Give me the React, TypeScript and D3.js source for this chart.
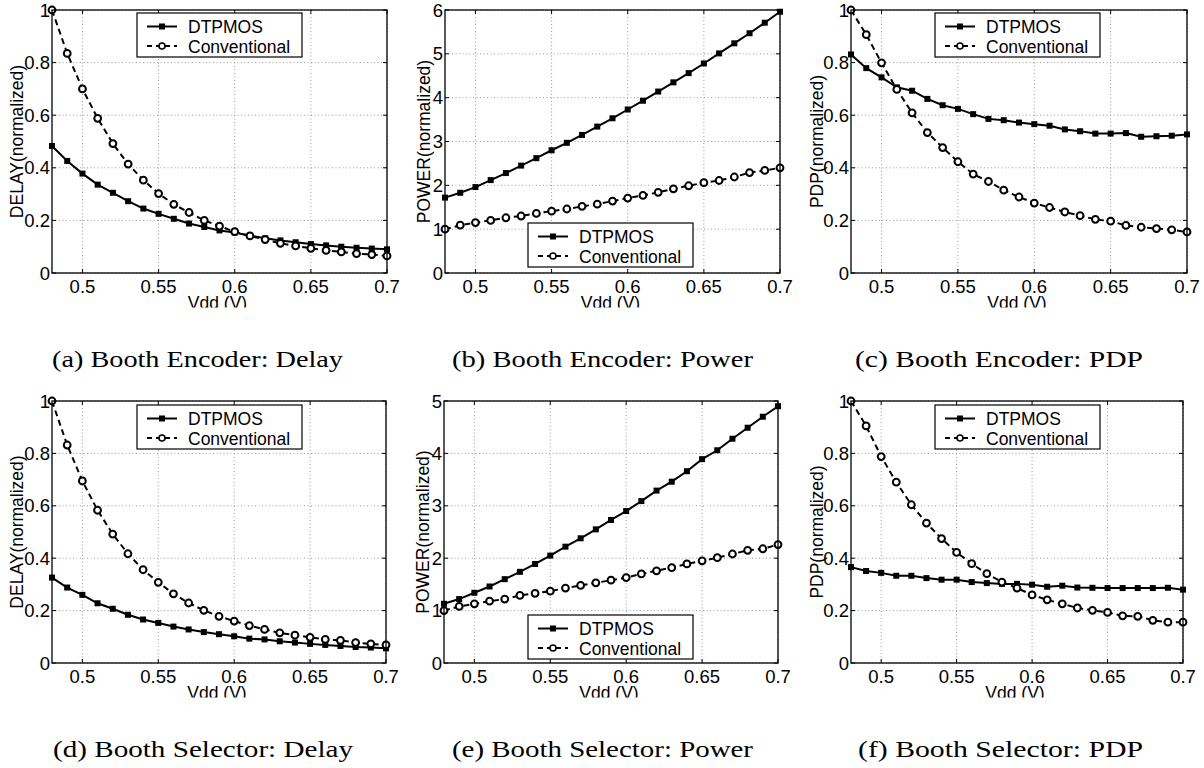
import React from "react";
import * as d3 from "d3";

const vdd = [0.48, 0.49, 0.5, 0.51, 0.52, 0.53, 0.54, 0.55, 0.56, 0.57, 0.58, 0.59, 0.6, 0.61, 0.62, 0.63, 0.64, 0.65, 0.66, 0.67, 0.68, 0.69, 0.7];
const xTicks = [0.5, 0.55, 0.6, 0.65, 0.7];
const seriesNames = ["DTPMOS", "Conventional"];

const encDelayDtpmos = [0.483, 0.426, 0.378, 0.336, 0.305, 0.273, 0.245, 0.225, 0.206, 0.188, 0.175, 0.162, 0.154, 0.142, 0.132, 0.124, 0.117, 0.11, 0.105, 0.1, 0.096, 0.093, 0.09];
const encDelayConv = [1.0, 0.835, 0.7, 0.588, 0.492, 0.414, 0.353, 0.302, 0.261, 0.23, 0.2, 0.178, 0.157, 0.141, 0.127, 0.113, 0.103, 0.094, 0.086, 0.08, 0.074, 0.07, 0.065];
const encPowerDtpmos = [1.72, 1.83, 1.96, 2.12, 2.28, 2.45, 2.62, 2.8, 2.97, 3.15, 3.34, 3.53, 3.73, 3.93, 4.14, 4.35, 4.56, 4.78, 5.01, 5.24, 5.47, 5.71, 5.96];
const encPowerConv = [1.0, 1.09, 1.15, 1.2, 1.26, 1.3, 1.36, 1.41, 1.46, 1.52, 1.57, 1.64, 1.71, 1.77, 1.84, 1.92, 1.99, 2.06, 2.11, 2.19, 2.29, 2.34, 2.4];
const encPdpDtpmos = [0.831, 0.779, 0.744, 0.706, 0.693, 0.662, 0.638, 0.624, 0.604, 0.586, 0.581, 0.572, 0.566, 0.56, 0.546, 0.539, 0.53, 0.53, 0.532, 0.518, 0.52, 0.522, 0.527];
const encPdpConv = [1.0, 0.906, 0.799, 0.698, 0.609, 0.534, 0.477, 0.423, 0.376, 0.348, 0.315, 0.289, 0.266, 0.249, 0.232, 0.218, 0.204, 0.197, 0.181, 0.174, 0.169, 0.164, 0.156];
const selDelayDtpmos = [0.326, 0.288, 0.26, 0.228, 0.207, 0.184, 0.166, 0.153, 0.139, 0.128, 0.118, 0.11, 0.102, 0.093, 0.09, 0.083, 0.078, 0.073, 0.069, 0.065, 0.061, 0.059, 0.056];
const selDelayConv = [1.0, 0.832, 0.695, 0.583, 0.492, 0.417, 0.356, 0.308, 0.264, 0.229, 0.201, 0.178, 0.16, 0.143, 0.128, 0.115, 0.106, 0.098, 0.09, 0.086, 0.078, 0.073, 0.069];
const selPowerDtpmos = [1.13, 1.22, 1.34, 1.46, 1.6, 1.74, 1.89, 2.05, 2.22, 2.38, 2.55, 2.73, 2.9, 3.09, 3.29, 3.46, 3.66, 3.89, 4.06, 4.28, 4.49, 4.7, 4.9];
const selPowerConv = [1.0, 1.08, 1.13, 1.18, 1.22, 1.29, 1.33, 1.37, 1.43, 1.48, 1.53, 1.58, 1.63, 1.7, 1.76, 1.82, 1.89, 1.95, 2.01, 2.08, 2.15, 2.18, 2.26];
const selPdpDtpmos = [0.366, 0.351, 0.344, 0.333, 0.333, 0.324, 0.318, 0.318, 0.309, 0.305, 0.302, 0.302, 0.299, 0.291, 0.295, 0.288, 0.287, 0.286, 0.286, 0.286, 0.286, 0.287, 0.28];
const selPdpConv = [1.0, 0.905, 0.788, 0.69, 0.604, 0.534, 0.475, 0.422, 0.379, 0.341, 0.309, 0.286, 0.26, 0.241, 0.226, 0.21, 0.201, 0.193, 0.18, 0.178, 0.163, 0.156, 0.156];

const unitTicks = [0, 0.2, 0.4, 0.6, 0.8, 1];
const power6Ticks = [0, 1, 2, 3, 4, 5, 6];
const power5Ticks = [0, 1, 2, 3, 4, 5];

const yLabels = ["DELAY(normalized)", "POWER(normalized)", "PDP(normalized)"];
const captions = [
  "(a) Booth Encoder: Delay",
  "(b) Booth Encoder: Power",
  "(c) Booth Encoder: PDP",
  "(d) Booth Selector: Delay",
  "(e) Booth Selector: Power",
  "(f) Booth Selector: PDP",
];

type Panel = {
  box: [number, number, number, number]; // left, right, top, bottom
  yMax: number;
  yTicks: number[];
  yLabel: string;
  yLabelOff: number;
  a: number[];
  b: number[];
  legend: [number, number];
  caption: string;
  capX: number;
  capY: number;
  capW: number;
};

const panels: Panel[] = [
  { box: [52, 387, 10, 273], yMax: 1, yTicks: unitTicks, yLabel: yLabels[0], yLabelOff: 35, a: encDelayDtpmos, b: encDelayConv, legend: [137, 13], caption: captions[0], capX: 52, capY: 367, capW: 291 },
  { box: [445, 780, 10, 273], yMax: 6, yTicks: power6Ticks, yLabel: yLabels[1], yLabelOff: 21, a: encPowerDtpmos, b: encPowerConv, legend: [528, 223], caption: captions[1], capX: 452, capY: 367, capW: 301 },
  { box: [851, 1187, 10, 273], yMax: 1, yTicks: unitTicks, yLabel: yLabels[2], yLabelOff: 34, a: encPdpDtpmos, b: encPdpConv, legend: [935, 13], caption: captions[2], capX: 855, capY: 367, capW: 288 },
  { box: [52, 386, 401, 663], yMax: 1, yTicks: unitTicks, yLabel: yLabels[0], yLabelOff: 35, a: selDelayDtpmos, b: selDelayConv, legend: [137, 405], caption: captions[3], capX: 53, capY: 757, capW: 300 },
  { box: [444, 778, 401, 663], yMax: 5, yTicks: power5Ticks, yLabel: yLabels[1], yLabelOff: 21, a: selPowerDtpmos, b: selPowerConv, legend: [528, 615], caption: captions[4], capX: 452, capY: 757, capW: 301 },
  { box: [851, 1183, 401, 663], yMax: 1, yTicks: unitTicks, yLabel: yLabels[2], yLabelOff: 34, a: selPdpDtpmos, b: selPdpConv, legend: [935, 405], caption: captions[5], capX: 858, capY: 757, capW: 285 },
];

const SANS = "'Liberation Sans', Arial, Helvetica, sans-serif";
const SERIF = "'Liberation Serif', 'Times New Roman', serif";

function fmt(v: number) {
  return String(+v.toFixed(2));
}

function ChartPanel({ p, idx }: { p: Panel; idx: number }) {
  const [L, R, T, B] = p.box;
  const x = d3.scaleLinear().domain([0.48, 0.7]).range([L, R]);
  const y = d3.scaleLinear().domain([0, p.yMax]).range([B, T]);
  const line = d3
    .line<number>()
    .x((_, i) => x(vdd[i]))
    .y((d) => y(d));
  const clipId = `clip-${idx}`;
  const [lx, ly] = p.legend;
  return (
    <g>
      <defs>
        <clipPath id={clipId}>
          <rect x={L - 60} y={T - 20} width={R - L + 100} height={B - T + 54.5} />
        </clipPath>
      </defs>
      {/* grid */}
      {xTicks.map((t) => (
        <line key={"gx" + t} x1={x(t)} x2={x(t)} y1={T} y2={B} stroke="#9a9a9a" strokeWidth={1} strokeDasharray="1,2.5" />
      ))}
      {p.yTicks.map((t) => (
        <line key={"gy" + t} x1={L} x2={R} y1={y(t)} y2={y(t)} stroke="#9a9a9a" strokeWidth={1} strokeDasharray="1,2.5" />
      ))}
      {/* ticks */}
      {xTicks.map((t) => (
        <g key={"tx" + t}>
          <line x1={x(t)} x2={x(t)} y1={B} y2={B - 4} stroke="#000" />
          <line x1={x(t)} x2={x(t)} y1={T} y2={T + 4} stroke="#000" />
          <text x={x(t)} y={B + 20} textAnchor="middle" fontFamily={SANS} fontSize={18.5}>
            {fmt(t)}
          </text>
        </g>
      ))}
      {p.yTicks.map((t) => (
        <g key={"ty" + t}>
          <line x1={L} x2={L + 4} y1={y(t)} y2={y(t)} stroke="#000" />
          <line x1={R} x2={R - 4} y1={y(t)} y2={y(t)} stroke="#000" />
          <text x={L - 2} y={y(t) + 6.5} textAnchor="end" fontFamily={SANS} fontSize={18.5}>
            {fmt(t)}
          </text>
        </g>
      ))}
      {/* series */}
      <path d={line(p.a) || ""} fill="none" stroke="#000" strokeWidth={2} />
      <path d={line(p.b) || ""} fill="none" stroke="#000" strokeWidth={2} strokeDasharray="6,4" />
      {p.a.map((v, i) => (
        <rect key={"sa" + i} x={x(vdd[i]) - 3} y={y(v) - 3} width={6} height={6} fill="#000" />
      ))}
      {p.b.map((v, i) => (
        <circle key={"sb" + i} cx={x(vdd[i])} cy={y(v)} r={3.4} fill="#fff" stroke="#000" strokeWidth={2} />
      ))}
      {/* axes box */}
      <rect x={L} y={T} width={R - L} height={B - T} fill="none" stroke="#000" strokeWidth={1.3} />
      {/* legend */}
      <rect x={lx} y={ly} width={165} height={44} fill="#fff" stroke="#000" strokeWidth={1.2} />
      <line x1={lx + 10} x2={lx + 40} y1={ly + 13.5} y2={ly + 13.5} stroke="#000" strokeWidth={2} />
      <rect x={lx + 22} y={ly + 10.5} width={6} height={6} fill="#000" />
      <text x={lx + 51} y={ly + 20} fontFamily={SANS} fontSize={17.5}>
        {seriesNames[0]}
      </text>
      <line x1={lx + 10} x2={lx + 40} y1={ly + 33} y2={ly + 33} stroke="#000" strokeWidth={2} strokeDasharray="5,4" />
      <circle cx={lx + 25} cy={ly + 33} r={3} fill="#fff" stroke="#000" strokeWidth={1.6} />
      <text x={lx + 51} y={ly + 39.5} fontFamily={SANS} fontSize={17.5}>
        {seriesNames[1]}
      </text>
      {/* axis labels */}
      <g clipPath={`url(#${clipId})`}>
        <text x={(L + R) / 2 - 2} y={B + 35.5} textAnchor="middle" fontFamily={SANS} fontSize={17.5}>
          Vdd (V)
        </text>
      </g>
      <text
        transform={`translate(${L - p.yLabelOff + 6},${(T + B) / 2}) rotate(-90)`}
        textAnchor="middle"
        fontFamily={SANS}
        fontSize={17.5}
      >
        {p.yLabel}
      </text>
      {/* caption */}
      <text x={p.capX} y={p.capY} fontFamily={SERIF} fontSize={22.5} textLength={p.capW} lengthAdjust="spacingAndGlyphs">
        {p.caption}
      </text>
    </g>
  );
}

export default function App() {
  return (
    <svg width={1204} height={768} style={{ position: "absolute", left: 0, top: 0, background: "#fff" }}>
      <rect width={1204} height={768} fill="#fff" />
      {panels.map((p, i) => (
        <ChartPanel key={i} p={p} idx={i} />
      ))}
    </svg>
  );
}
